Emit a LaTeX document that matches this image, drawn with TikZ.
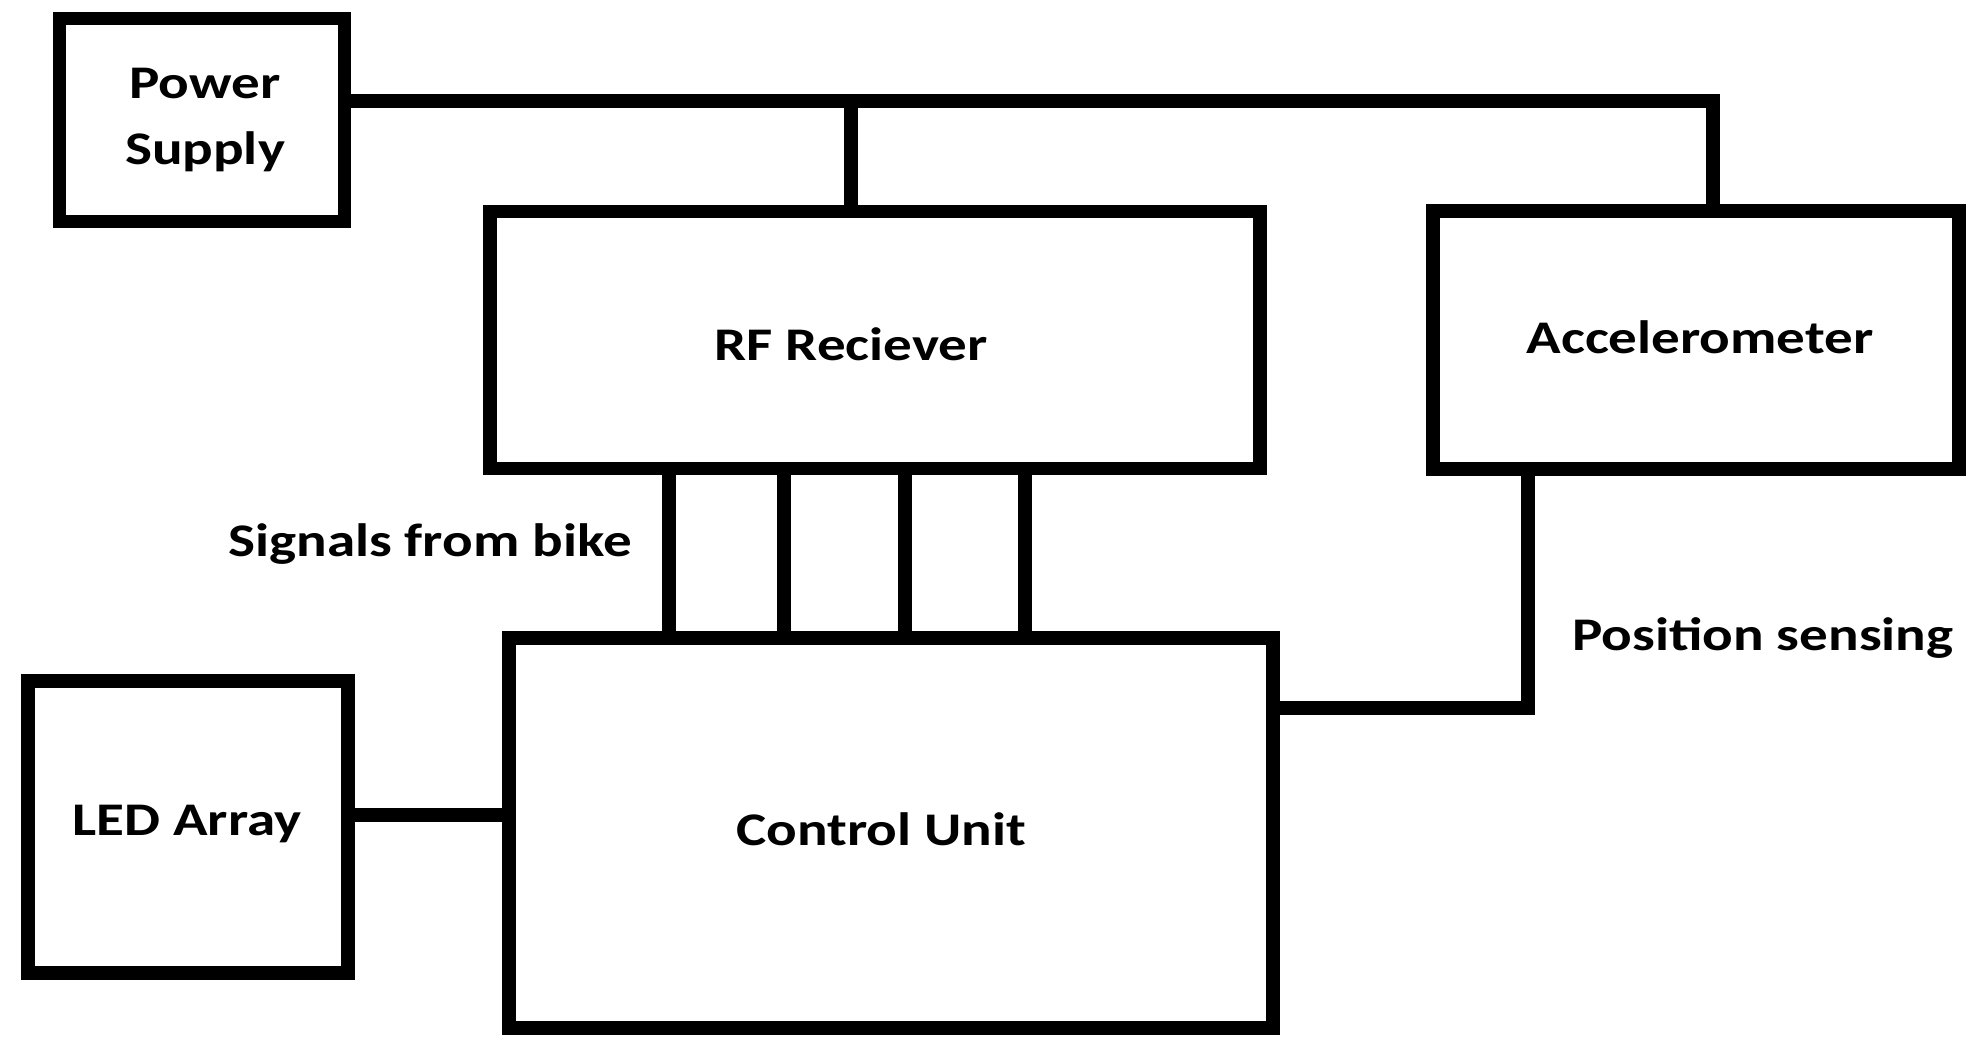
\documentclass[tikz,border=0pt]{standalone}
\usepackage{fontspec}
\setmainfont{Carlito}[FakeStretch=1.22]
\begin{document}
\begin{tikzpicture}[
  x=0.01cm, y=-0.01cm,
  block/.style={draw, line width=0.135cm, rectangle, inner sep=0pt},
  wire/.style={line width=0.135cm, line cap=rect},
  lab/.style={draw=none, fill=none, font=\fontsize{13.3}{18.5}\selectfont\bfseries, align=center, inner sep=0pt}
]
\useasboundingbox (0,0) rectangle (1982,1055);

% =======================
% Blocks
% =======================
\node[block, minimum width=2.85cm, minimum height=2.03cm] (ps)  at (202,120) {};
\node[block, minimum width=7.70cm, minimum height=2.57cm] (rf)  at (875,340) {};
\node[block, minimum width=5.26cm, minimum height=2.58cm] (acc) at (1696,340) {};
\node[block, minimum width=3.20cm, minimum height=2.92cm] (led) at (188,827) {};
\node[block, minimum width=7.64cm, minimum height=3.90cm] (cu)  at (891,833) {};

% Texts
\node[lab] (psT)  at (205,120) {Power\\Supply};
\node[lab] (rfT)  at (851,344) {RF Reciever};
\node[lab] (accT) at (1700,337) {Accelerometer};
\node[lab] (ledT) at (187,824) {LED Array};
\node[lab] (cuT)  at (881,829) {Control Unit};

\node[lab] (sigT) at (430,544) {Signals from bike};
\node[lab] (posT) at (1763,638) {Position sensing};

% =======================
% Power bus
% =======================
\coordinate (busR) at (1713,101);
\coordinate (tapRF) at (851,101);
\draw[wire] (ps.east |- busR) -- (busR) -- (busR |- acc.north);
\draw[wire] (tapRF) -- (tapRF |- rf.north);

% =======================
% Signal lines RF -> control
% =======================
\foreach \i/\x in {1/669,2/784,3/905,4/1025}{
  \coordinate (s\i) at (\x,570);
  \draw[wire] (rf.south -| s\i) -- (cu.north -| s\i);
}

% Accelerometer -> control
\coordinate (bend) at (1528,708);
\draw[wire] (acc.south -| bend) -- (bend) -- (bend -| cu.east);

% LED array <-> control
\coordinate (ledlink) at (400,815);
\draw[wire] (led.east |- ledlink) -- (cu.west |- ledlink);

\end{tikzpicture}
\end{document}
